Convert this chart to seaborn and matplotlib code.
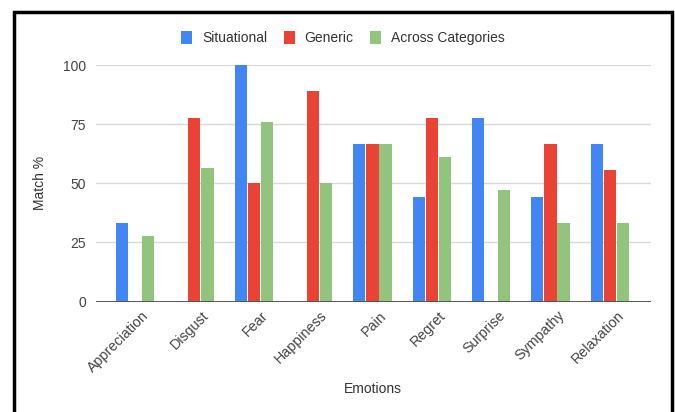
import matplotlib
matplotlib.use("Agg")
import matplotlib.pyplot as plt
from matplotlib.patches import Rectangle, Patch
from matplotlib.transforms import ScaledTranslation
import seaborn as sns
import pandas as pd

emotions = ["Appreciation", "Disgust", "Fear", "Happiness", "Pain",
            "Regret", "Surprise", "Sympathy", "Relaxation"]
situational = [33.3, 0, 100, 0, 66.7, 44.4, 77.8, 44.4, 66.7]
generic = [0, 77.8, 50, 88.9, 66.7, 77.8, 0, 66.7, 55.6]
across = [27.8, 56.3, 76.0, 50, 66.7, 61.1, 47.1, 33.3, 33.3]
series = ["Situational", "Generic", "Across Categories"]
colors = ["#4285F4", "#EA4335", "#93C47D"]
y_ticks = [0, 25, 50, 75, 100]

rows = []
for name, vals in zip(series, [situational, generic, across]):
    for emo, v in zip(emotions, vals):
        rows.append({"Emotions": emo, "Series": name, "Match %": v})
df = pd.DataFrame(rows)

sns.set_theme(style="white")
plt.rcParams["font.family"] = ["Liberation Sans", "DejaVu Sans"]

fig = plt.figure(figsize=(6.75, 4.12), dpi=100)
ax = fig.add_axes([0.142, 0.268, 0.822, 0.574])

sns.barplot(data=df, x="Emotions", y="Match %", hue="Series",
            hue_order=series, palette=colors, order=emotions,
            width=0.66, gap=0.06, saturation=1, ax=ax, legend=False,
            linewidth=0)

ax.set_ylim(0, 100)
ax.set_xlim(-0.66, 8.69)
ax.set_yticks(y_ticks)
ax.set_yticklabels([str(t) for t in y_ticks], fontsize=10, color="#444444")
ax.tick_params(axis="y", length=0, pad=7)
ax.tick_params(axis="x", length=0, pad=5)
shift = ScaledTranslation(5 / 72, 0, fig.dpi_scale_trans)
for lbl in ax.get_xticklabels():
    lbl.set_rotation(45)
    lbl.set_ha("right")
    lbl.set_rotation_mode("anchor")
    lbl.set_fontsize(10.3)
    lbl.set_color("#444444")
    lbl.set_transform(lbl.get_transform() + shift)

for t in y_ticks[1:]:
    ax.axhline(t, color="#d9d9d9", lw=1, zorder=0)
ax.axhline(0, color="#555555", lw=1.4, zorder=3)
for s in ax.spines.values():
    s.set_visible(False)

ax.set_xlabel("Emotions", fontsize=10, color="#333333", va="center")
ax.xaxis.set_label_coords(0.5, -0.369)
ax.set_ylabel("Match %", fontsize=10, color="#333333", va="center")
ax.yaxis.set_label_coords(-0.1, 0.5)

handles = [Patch(facecolor=c, edgecolor="none", label=s) for s, c in zip(series, colors)]
fig.legend(handles=handles, loc="center", bbox_to_anchor=(0.508, 0.907),
           ncol=3, frameon=False, fontsize=10, handlelength=0.8,
           handleheight=1.0, handletextpad=0.7, columnspacing=1.2,
           labelcolor="#333333")

fig.patches.append(Rectangle((0.02, -0.05), 0.975, 1.022,
                             transform=fig.transFigure, fill=False,
                             edgecolor="black", linewidth=2.5))

fig.savefig("out.png", dpi=100)
